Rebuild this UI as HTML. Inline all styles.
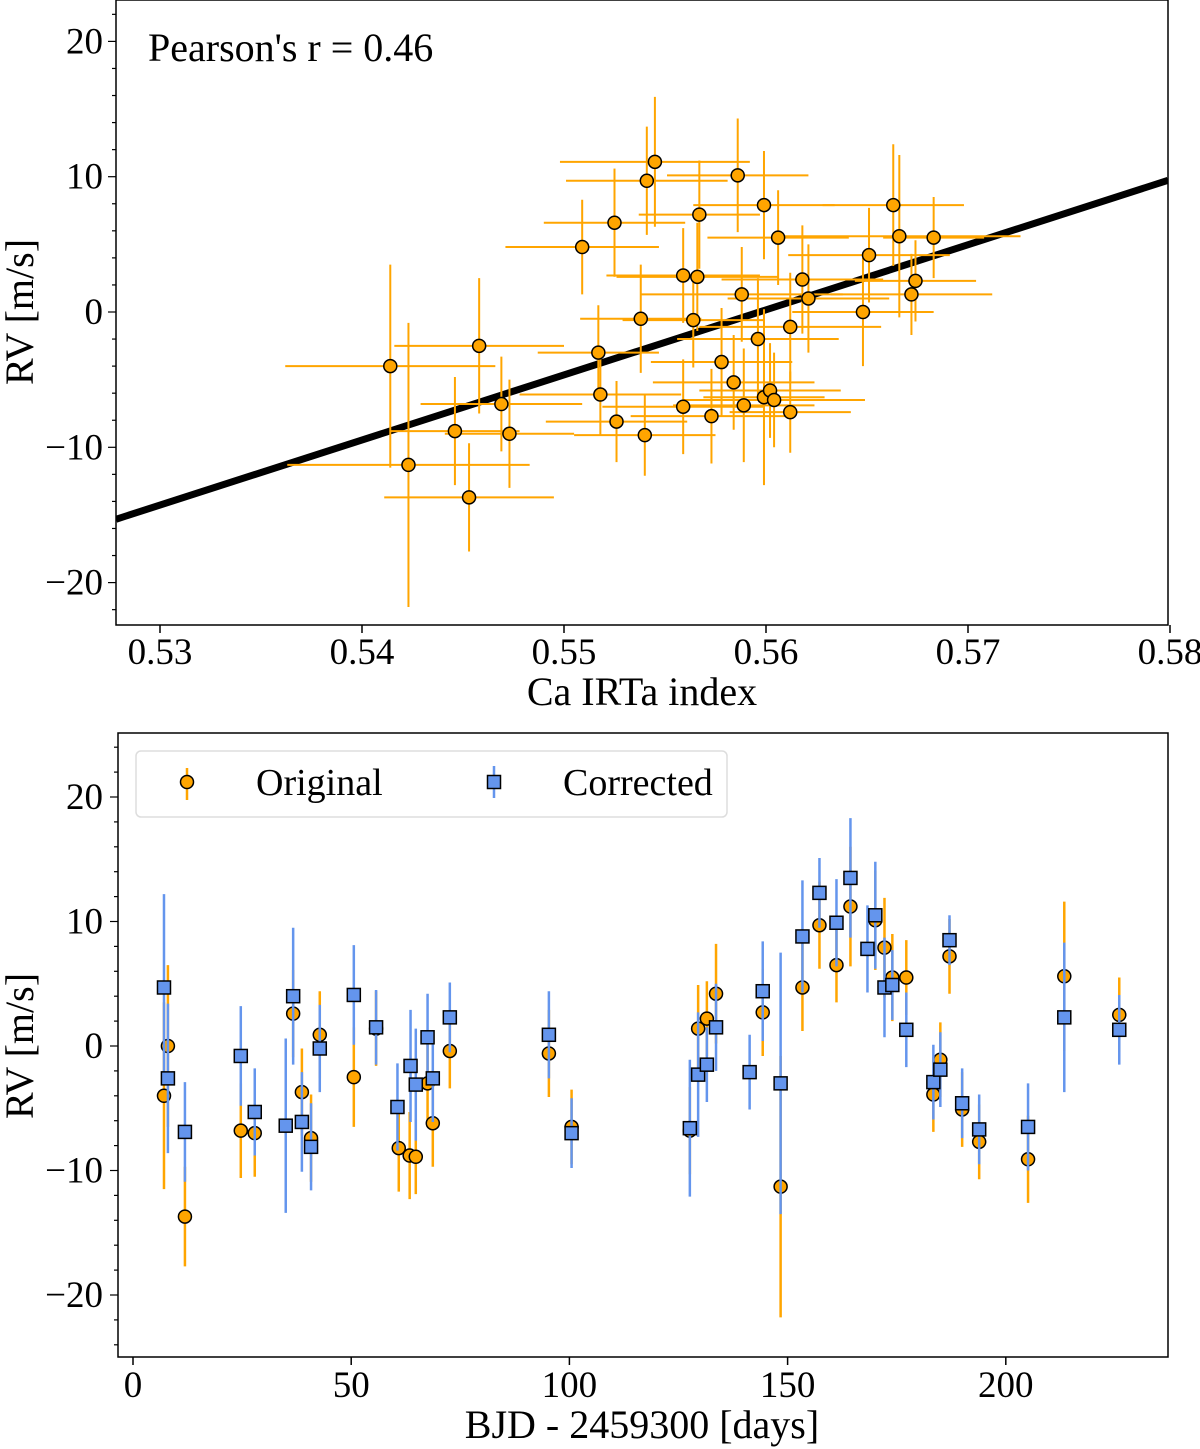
<!DOCTYPE html>
<html><head><meta charset="utf-8"><style>
body{margin:0;background:#fff}
svg{display:block;font-family:"Liberation Serif",serif}
</style></head><body>
<svg id="c" width="1200" height="1449"></svg>
<script>
// Top panel data
const topX=[0.5414,0.5423,0.5446,0.5453,0.5458,0.5469,0.5473,0.5509,0.5517,0.5518,0.5525,0.5526,0.5538,0.5540,0.5541,0.5545,0.5559,0.5559,0.5564,0.5566,0.5567,0.5573,0.5578,0.5584,0.5586,0.5588,0.5589,0.5596,0.5599,0.5599,0.5602,0.5604,0.5606,0.5612,0.5612,0.5618,0.5621,0.5648,0.5651,0.5663,0.5666,0.5672,0.5674,0.5683];
const topY=[-4.0,-11.3,-8.8,-13.7,-2.5,-6.8,-9.0,4.8,-3.0,-6.1,6.6,-8.1,-0.5,-9.1,9.7,11.1,2.7,-7.0,-0.6,2.6,7.2,-7.7,-3.7,-5.2,10.1,1.3,-6.9,-2.0,7.9,-6.3,-5.8,-6.5,5.5,-7.4,-1.1,2.4,1.0,0.0,4.2,7.9,5.6,1.3,2.3,5.5];
const topXErr=[0.0052,0.0060,0.0032,0.0042,0.0042,0.0040,0.0032,0.0038,0.0030,0.0040,0.0035,0.0035,0.0030,0.0035,0.0040,0.0047,0.0038,0.0040,0.0035,0.0040,0.0030,0.0040,0.0035,0.0040,0.0035,0.0050,0.0035,0.0040,0.0035,0.0030,0.0035,0.0045,0.0035,0.0030,0.0045,0.0040,0.0040,0.0035,0.0040,0.0035,0.0060,0.0040,0.0030,0.0025];
const topYErr=[7.5,10.5,4.0,4.0,5.0,3.5,4.0,3.5,3.5,3.0,4.0,3.0,4.0,3.0,4.0,4.8,3.5,3.5,3.5,4.0,4.0,3.5,4.0,3.5,4.2,3.5,4.2,4.5,4.0,6.5,3.5,3.5,3.5,3.0,4.0,4.0,4.0,4.0,3.5,4.5,6.0,3.0,3.0,3.0];
const fitCoef=[481,-269.2]; // slope, intercept
const topXTicks=[0.53,0.54,0.55,0.56,0.57,0.58];
const topYTicks=[-20,-10,0,10,20];
// Bottom panel data
const origDay=[7.1,8.0,11.9,24.7,27.9,36.7,38.7,40.8,42.8,50.6,55.7,60.9,63.4,64.8,67.5,68.7,72.6,95.3,100.5,127.6,129.5,131.5,133.6,144.3,148.4,153.4,157.3,161.2,164.4,170.1,172.2,174.0,177.2,183.4,185.0,187.1,190.0,193.9,205.1,213.4,226.0];
const origRV=[-4.0,0.0,-13.7,-6.8,-7.0,2.6,-3.7,-7.4,0.9,-2.5,1.4,-8.2,-8.8,-8.9,-3.0,-6.2,-0.4,-0.6,-6.5,-6.8,1.4,2.2,4.2,2.7,-11.3,4.7,9.7,6.5,11.2,10.1,7.9,5.5,5.5,-3.9,-1.1,7.2,-5.1,-7.7,-9.1,5.6,2.5];
const origErr=[7.5,6.5,4.0,3.8,3.5,3.5,3.5,3.5,3.5,4.0,3.0,3.5,3.5,3.0,3.5,3.5,3.0,3.5,3.0,3.5,3.5,3.0,4.0,3.5,10.5,3.5,3.5,3.0,4.8,4.0,4.0,3.5,3.0,3.0,3.0,3.0,3.0,3.0,3.5,6.0,3.0];
const corrDay=[7.1,8.0,11.9,24.7,27.9,35.0,36.7,38.7,40.8,42.8,50.6,55.7,60.6,63.6,64.8,67.5,68.7,72.6,95.3,100.5,127.6,129.5,131.5,133.6,141.3,144.3,148.4,153.4,157.3,161.2,164.4,168.3,170.1,172.2,174.0,177.2,183.4,185.0,187.1,190.0,193.9,205.1,213.4,226.0];
const corrRV=[4.7,-2.6,-6.9,-0.8,-5.3,-6.4,4.0,-6.1,-8.1,-0.2,4.1,1.5,-4.9,-1.6,-3.1,0.7,-2.6,2.3,0.9,-7.0,-6.6,-2.3,-1.5,1.5,-2.1,4.4,-3.0,8.8,12.3,9.9,13.5,7.8,10.5,4.7,4.9,1.3,-2.9,-1.9,8.5,-4.6,-6.7,-6.5,2.3,1.3];
const corrErr=[7.5,6.0,4.0,4.0,3.5,7.0,5.5,4.0,3.5,3.5,4.0,3.0,3.5,4.5,4.5,3.5,3.5,2.8,3.5,2.8,5.5,5.0,3.0,3.5,3.0,4.0,10.5,4.5,2.8,3.5,4.8,3.5,4.3,4.0,2.8,3.0,3.0,3.0,2.0,2.8,2.8,3.5,6.0,2.8];
const botXTicks=[0,50,100,150,200];
const botYTicks=[-20,-10,0,10,20];

const NS="http://www.w3.org/2000/svg";
const svg=document.getElementById('c');
function mk(tag,attrs,parent){const e=document.createElementNS(NS,tag);for(const k in attrs)e.setAttribute(k,attrs[k]);(parent||svg).appendChild(e);return e;}
const ORANGE="#FFA500", BLUE="#6495ED";
const TICK=37, TITLE=40;

const tx=v=>160+(v-0.53)*20200, ty=v=>312-v*13.53;
const bx=v=>133+v*4.364, by=v=>1046-v*12.45;

// ---- TOP PANEL ----
const gT=mk('g',{});


const clipT=mk('clipPath',{id:'clipT'});mk('rect',{x:116,y:0,width:1052,height:625},clipT);
const clipB=mk('clipPath',{id:'clipB'});mk('rect',{x:118,y:733,width:1050,height:624},clipB);
const plotT=mk('g',{'clip-path':'url(#clipT)'},gT);
const fit=mk('line',{x1:116,y1:ty(fitCoef[0]*((116-160)/20200+0.53)+fitCoef[1]),x2:1168,y2:ty(fitCoef[0]*((1168-160)/20200+0.53)+fitCoef[1]),stroke:'#000','stroke-width':7},plotT);


for(let i=0;i<topX.length;i++){
  const g=mk('g',{},plotT);
  
  
  const x=tx(topX[i]),y=ty(topY[i]);
  mk('line',{x1:tx(topX[i]-topXErr[i]),x2:tx(topX[i]+topXErr[i]),y1:y,y2:y,stroke:ORANGE,'stroke-width':2},g);
  mk('line',{x1:x,x2:x,y1:ty(topY[i]-topYErr[i]),y2:ty(topY[i]+topYErr[i]),stroke:ORANGE,'stroke-width':2},g);
}
for(let i=0;i<topX.length;i++){
  const c=mk('circle',{cx:tx(topX[i]),cy:ty(topY[i]),r:6.5,fill:ORANGE,stroke:'#000','stroke-width':1.5},plotT);
  
  
}
mk('rect',{x:116,y:0,width:1052,height:625,fill:'none',stroke:'#000','stroke-width':1.5},gT);
for(const t of topXTicks){
  mk('line',{x1:tx(t),x2:tx(t),y1:625,y2:633,stroke:'#000','stroke-width':1.5},gT);
  const l=mk('text',{x:tx(t),y:664,'font-size':TICK,'text-anchor':'middle'},gT);l.textContent=t.toFixed(2);
  
  
}
for(let t=-22;t<=22;t+=2){const y=ty(t);if(y<0||y>625)continue;
  mk('line',{x1:116,x2:(t%10===0)?108:112,y1:y,y2:y,stroke:'#000','stroke-width':1.2},gT);}
for(const t of topYTicks){
  const l=mk('text',{x:103,y:ty(t)+12,'font-size':TICK,'text-anchor':'end'},gT);l.textContent=(t<0?'\u2212'+(-t):t);
  
  
}
let tl=mk('text',{x:642,y:705,'font-size':TITLE,'text-anchor':'middle'},gT);tl.textContent='Ca IRTa index';


tl=mk('text',{x:0,y:0,'font-size':TITLE,'text-anchor':'middle',transform:'translate(33,312) rotate(-90)'},gT);tl.textContent='RV [m/s]';


tl=mk('text',{x:148,y:61,'font-size':40},gT);tl.textContent="Pearson's r = 0.46";



// ---- BOTTOM PANEL ----
const gB=mk('g',{});


const plotB=mk('g',{'clip-path':'url(#clipB)'},gB);
for(let i=0;i<origDay.length;i++){
  const l=mk('line',{x1:bx(origDay[i]),x2:bx(origDay[i]),y1:by(origRV[i]-origErr[i]),y2:by(origRV[i]+origErr[i]),stroke:ORANGE,'stroke-width':2.5},plotB);
  
  
}
for(let i=0;i<origDay.length;i++){
  const c=mk('circle',{cx:bx(origDay[i]),cy:by(origRV[i]),r:6.5,fill:ORANGE,stroke:'#000','stroke-width':1.5},plotB);
  
  
}
for(let i=0;i<corrDay.length;i++){
  const l=mk('line',{x1:bx(corrDay[i]),x2:bx(corrDay[i]),y1:by(corrRV[i]-corrErr[i]),y2:by(corrRV[i]+corrErr[i]),stroke:BLUE,'stroke-width':2.5},plotB);
  
  
}
for(let i=0;i<corrDay.length;i++){
  const r=mk('rect',{x:bx(corrDay[i])-6.5,y:by(corrRV[i])-6.5,width:13,height:13,fill:BLUE,stroke:'#000','stroke-width':1.5},plotB);
  
  
}
mk('rect',{x:118,y:733,width:1050,height:624,fill:'none',stroke:'#000','stroke-width':1.5},gB);
for(const t of botXTicks){
  mk('line',{x1:bx(t),x2:bx(t),y1:1357,y2:1365,stroke:'#000','stroke-width':1.5},gB);
  const l=mk('text',{x:bx(t),y:1397,'font-size':TICK,'text-anchor':'middle'},gB);l.textContent=t;
  
  
}
for(let t=-24;t<=24;t+=2){const y=by(t);if(y<733||y>1357)continue;
  mk('line',{x1:118,x2:(t%10===0)?110:114,y1:y,y2:y,stroke:'#000','stroke-width':1.2},gB);}
for(const t of botYTicks){
  const l=mk('text',{x:103,y:by(t)+12,'font-size':TICK,'text-anchor':'end'},gB);l.textContent=(t<0?'\u2212'+(-t):t);
  
  
}
tl=mk('text',{x:642,y:1438,'font-size':TITLE,'text-anchor':'middle'},gB);tl.textContent='BJD - 2459300 [days]';


tl=mk('text',{x:0,y:0,'font-size':TITLE,'text-anchor':'middle',transform:'translate(33,1046) rotate(-90)'},gB);tl.textContent='RV [m/s]';


// legend
const lg=mk('g',{},gB);


mk('rect',{x:136,y:751,width:591,height:66,rx:5,fill:'#fff',stroke:'#ddd','stroke-width':1.5},lg);
mk('line',{x1:187,x2:187,y1:768,y2:800,stroke:ORANGE,'stroke-width':2.5},lg);
mk('circle',{cx:187,cy:782,r:6.5,fill:ORANGE,stroke:'#000','stroke-width':1.5},lg);
tl=mk('text',{x:256,y:795,'font-size':38},lg);tl.textContent='Original';


mk('line',{x1:494,x2:494,y1:766,y2:798,stroke:BLUE,'stroke-width':2.5},lg);
mk('rect',{x:487.5,y:775.5,width:13,height:13,fill:BLUE,stroke:'#000','stroke-width':1.5},lg);
tl=mk('text',{x:563,y:795,'font-size':38},lg);tl.textContent='Corrected';


</script>
</body></html>
